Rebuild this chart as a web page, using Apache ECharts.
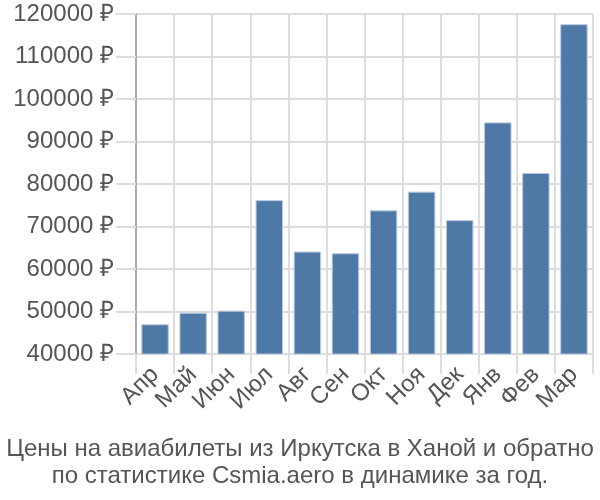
<!DOCTYPE html>
<html><head><meta charset="utf-8">
<script src="https://cdn.jsdelivr.net/npm/echarts@6/dist/echarts.min.js"></script>
<style>html,body{margin:0;padding:0;background:#fff}#c{width:600px;height:500px}</style>
</head><body><div id="c"></div>
<script>
const categories = ['Апр','Май','Июн','Июл','Авг','Сен','Окт','Ноя','Дек','Янв','Фев','Мар'];
const prices = [47000, 49700, 50200, 76200, 64100, 63700, 73800, 78200, 71500, 94500, 82600, 117600];
const titleLines = ['Цены на авиабилеты из Иркутска в Ханой и обратно', 'по статистике Csmia.aero в динамике за год.'];
const chart = echarts.init(document.getElementById('c'), null, {renderer:'canvas'});
const font = '"Liberation Sans", Arial, sans-serif';
chart.setOption({
  animation:false,
  title:{text:titleLines.join('\n'), left:'center', top:431,
    textStyle:{fontFamily:font, fontSize:24, fontWeight:'normal', color:'#555', lineHeight:27}},
  grid:{left:136, right:7, top:14, bottom:146, containLabel:false},
  xAxis:{type:'category', data:categories, boundaryGap:true,
    axisLine:{show:true, lineStyle:{color:'#ddd'}},
    axisTick:{show:true, length:20, alignWithLabel:false, lineStyle:{color:'#ddd', width:2}},
    splitLine:{show:true, lineStyle:{color:'#ddd', width:2}},
    axisLabel:{rotate:45, fontFamily:font, fontSize:24, color:'#555', margin:17, interval:0}},
  yAxis:{type:'value', min:40000, max:120000, interval:10000,
    axisLine:{show:true, lineStyle:{color:'#aaa', width:2}},
    axisTick:{show:true, length:20, lineStyle:{color:'#ddd', width:2}},
    splitLine:{show:true, lineStyle:{color:'#ddd', width:2}},
    axisLabel:{fontFamily:font, fontSize:24, color:'#555', margin:22,
      formatter:v=>v+' ₽'}},
  series:[{type:'bar', data:prices, barCategoryGap:'28%',
    itemStyle:{color:'#4e79a7', borderColor:'#b8c9dc', borderWidth:1}}]
});
</script></body></html>
